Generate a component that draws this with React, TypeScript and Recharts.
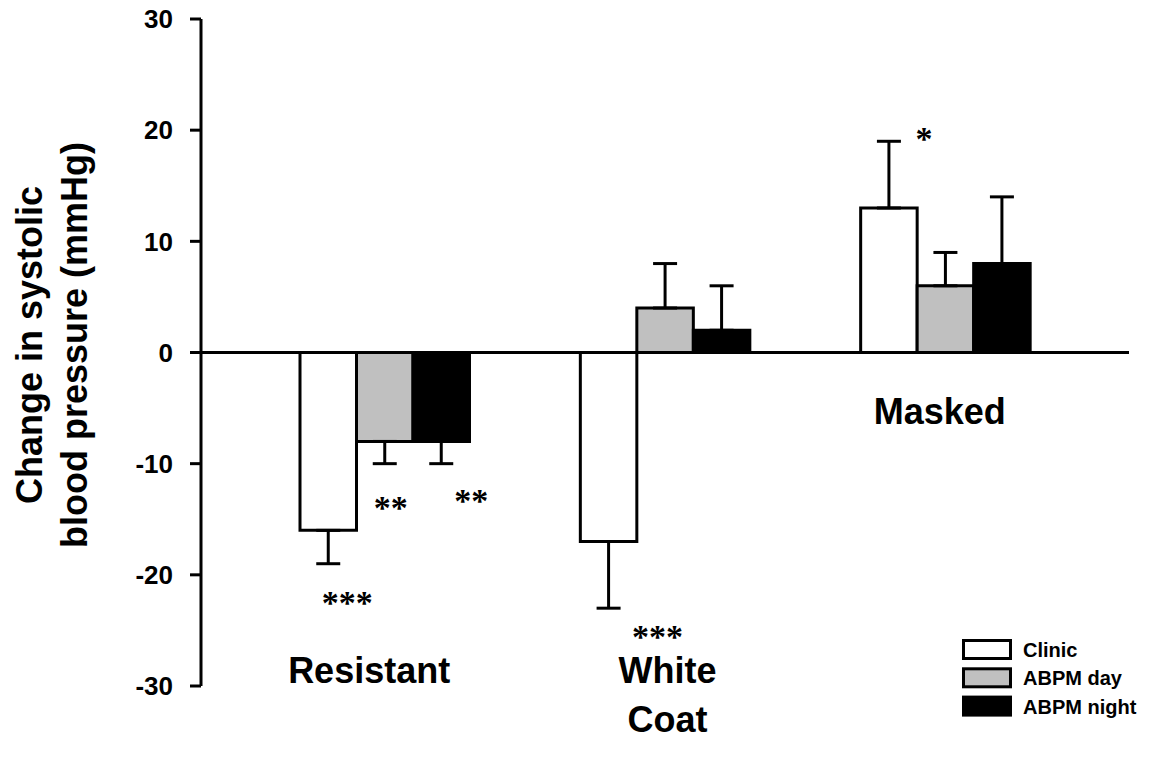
import { Bar, BarChart, ErrorBar, LabelList, Legend, ReferenceLine, XAxis, YAxis } from 'recharts';

const categories = ['Resistant', 'White\nCoat', 'Masked'];

const clinic = [-16, -17, 13];
const clinicSem = [3, 6, 6];
const abpmDay = [-8, 4, 6];
const abpmDaySem = [2, 4, 3];
const abpmNight = [-8, 2, 8];
const abpmNightSem = [2, 4, 6];

const clinicStars = ['***', '***', '*'];
const abpmDayStars = ['**', '', ''];
const abpmNightStars = ['**', '', ''];

const yTicks = [-30, -20, -10, 0, 10, 20, 30];

const FONT = "'Liberation Sans', Arial, Helvetica, sans-serif";
const STAR_FONT = "'Liberation Serif', 'Times New Roman', serif";

// error bars only point away from zero
const oneSided = (v: number, e: number) => (v < 0 ? [e, 0] : [0, e]);

const rows = categories.map((name, i) => ({
  name,
  clinic: clinic[i],
  clinicErr: oneSided(clinic[i], clinicSem[i]),
  clinicStar: clinicStars[i],
  abpmDay: abpmDay[i],
  abpmDayErr: oneSided(abpmDay[i], abpmDaySem[i]),
  abpmDayStar: abpmDayStars[i],
  abpmNight: abpmNight[i],
  abpmNightErr: oneSided(abpmNight[i], abpmNightSem[i]),
  abpmNightStar: abpmNightStars[i],
}));

const series = [
  { key: 'clinic', name: 'Clinic', fill: '#ffffff', means: clinic, sems: clinicSem },
  { key: 'abpmDay', name: 'ABPM day', fill: '#c0c0c0', means: abpmDay, sems: abpmDaySem },
  { key: 'abpmNight', name: 'ABPM night', fill: '#000000', means: abpmNight, sems: abpmNightSem },
];

// where the asterisks sit, relative to the end of the error bar
const starNudge: Record<string, [number, number]> = {
  'clinic-0': [19, 34],
  'abpmDay-0': [6, 39],
  'abpmNight-0': [30, 32],
  'clinic-1': [49, 24],
  'clinic-2': [35, -7],
};

const starLabel = (key: string, means: number[], sems: number[]) => (props: any) => {
  const { viewBox, value, index } = props;
  if (!value || !viewBox) return null;
  const { x, y, width, height } = viewBox;
  const v = means[index];
  const perUnit = Math.abs(height) / Math.abs(v);
  const end =
    v < 0
      ? Math.max(y, y + height) + sems[index] * perUnit
      : Math.min(y, y + height) - sems[index] * perUnit;
  const [dx, dy] = starNudge[`${key}-${index}`] ?? [0, v < 0 ? 34 : -34];
  return (
    <text x={x + width / 2 + dx} y={end + dy + 16} textAnchor="middle" fontFamily={STAR_FONT} fontSize={34} fontWeight="bold" fill="#000">
      {value}
    </text>
  );
};

const tickPlace: Record<string, { dx: number; dy: number }> = {
  Resistant: { dx: -16, dy: -3 },
  'White\nCoat': { dx: 2, dy: -3 },
  Masked: { dx: -6, dy: -262 },
};

const CategoryTick = (props: any) => {
  const { x, y, payload } = props;
  const place = tickPlace[payload.value] ?? { dx: 0, dy: 30 };
  const lines = String(payload.value).split('\n');
  return (
    <text x={x + place.dx} y={y + place.dy} textAnchor="middle" fontFamily={FONT} fontSize={36} fontWeight="bold" fill="#000">
      {lines.map((l, i) => (
        <tspan key={l} x={x + place.dx} dy={i === 0 ? 0 : 49}>
          {l}
        </tspan>
      ))}
    </text>
  );
};

const YTitle = () => (
  <text transform="translate(0,337) rotate(-90)" textAnchor="middle" fontFamily={FONT} fontSize={36} fontWeight="bold" fill="#000">
    <tspan x={0} y={34}>Change in systolic</tspan>
    <tspan x={0} y={79}>blood pressure (mmHg)</tspan>
  </text>
);

const LegendBox = () => (
  <svg width={190} height={90}>
    {series.map((s, i) => (
      <g key={s.key}>
        <rect x={1.5} y={1.5 + 28.3 * i} width={47} height={18} fill={s.fill} stroke="#000" strokeWidth={3} />
        <text x={61} y={18 + 28.3 * i} fontFamily={FONT} fontSize={20} fontWeight="bold" fill="#000">
          {s.name}
        </text>
      </g>
    ))}
  </svg>
);

export default function App() {
  return (
    <BarChart
      width={1135}
      height={751}
      data={rows}
      margin={{ top: 11, right: 14, bottom: 0, left: 0 }}
      barGap={0}
      barSize={56.5}
    >
      <XAxis
        dataKey="name"
        height={73}
        axisLine={false}
        tickLine={false}
        tickSize={0}
        tickMargin={0}
        padding={{ left: 44, right: 43 }}
        interval={0}
        tick={<CategoryTick />}
      />
      <YAxis
        type="number"
        domain={[-30, 30]}
        ticks={yTicks}
        interval={0}
        width={193}
        axisLine={{ stroke: '#000', strokeWidth: 3 }}
        tickLine={{ stroke: '#000', strokeWidth: 3 }}
        tickSize={11}
        tickMargin={17}
        tick={{ fill: '#000', fontFamily: FONT, fontSize: 26, fontWeight: 'bold' }}
        label={<YTitle />}
      />
      <ReferenceLine y={0} stroke="#000" strokeWidth={3} />
      {series.map((s) => (
        <Bar key={s.key} dataKey={s.key} name={s.name} fill={s.fill} stroke="#000" strokeWidth={3} isAnimationActive={false}>
          <ErrorBar dataKey={`${s.key}Err`} direction="y" width={12} stroke="#000" strokeWidth={3} />
          <LabelList dataKey={`${s.key}Star`} content={starLabel(s.key, s.means, s.sems)} />
        </Bar>
      ))}
      <Legend
        layout="vertical"
        align="center"
        verticalAlign="middle"
        wrapperStyle={{ left: 954, top: 631, width: 190, height: 90 }}
        content={() => <LegendBox />}
      />
    </BarChart>
  );
}
